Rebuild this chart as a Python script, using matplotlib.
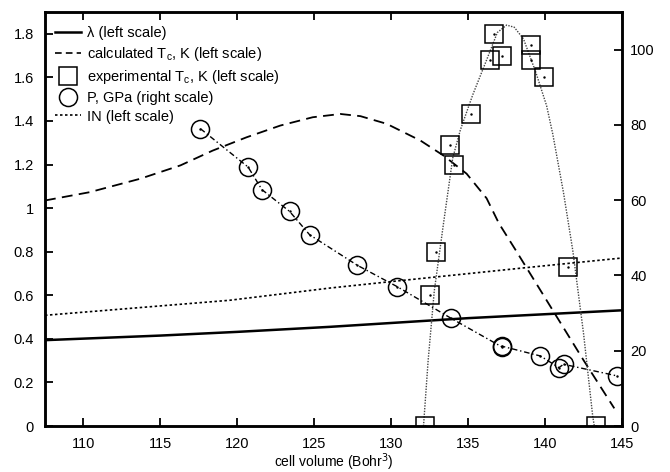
import matplotlib
matplotlib.use("Agg")
import matplotlib.pyplot as plt
from matplotlib.lines import Line2D

plt.rcParams["font.family"] = ["Liberation Sans", "DejaVu Sans"]
plt.rcParams["font.size"] = 10.5

# lambda (left scale)
lam_v = [107.5, 115.0, 120.0, 126.0, 135.0, 145.0]
lam_y = [0.394, 0.415, 0.432, 0.455, 0.495, 0.531]

# IN (left scale)
in_v = [107.5, 119.5, 126.0, 130.3, 138.8, 145.0]
in_y = [0.508, 0.577, 0.633, 0.665, 0.727, 0.771]

# calculated Tc (left scale)
calc_v = [107.5, 110.4, 113.7, 116.3, 118.4, 120.6, 122.8, 124.9, 126.7, 128.0,
          129.7, 131.9, 133.4, 134.9, 136.2, 137.0, 138.1, 140.5, 142.5, 144.5]
calc_y = [1.035, 1.073, 1.135, 1.196, 1.264, 1.325, 1.379, 1.417, 1.432, 1.422,
          1.387, 1.31, 1.241, 1.158, 1.045, 0.93, 0.806, 0.531, 0.302, 0.081]

# experimental Tc (left scale)
exp_v = [132.2, 132.5, 132.9, 133.8, 134.1, 135.2, 136.4, 136.7, 137.2, 139.1,
         139.1, 139.9, 141.5, 143.3]
exp_y = [0.0, 0.60, 0.80, 1.29, 1.20, 1.43, 1.68, 1.80, 1.70, 1.75,
         1.68, 1.60, 0.73, 0.0]

# fit through experimental Tc
fit_v = [132.1, 132.4, 132.8, 133.4, 134.0, 134.5, 135.3, 136.2, 136.9, 137.5,
         138.0, 138.6, 139.4, 140.1, 140.5, 141.2, 141.8, 142.5, 143.1, 143.2]
fit_y = [0.0, 0.30, 0.62, 0.93, 1.23, 1.36, 1.52, 1.68, 1.806, 1.84,
         1.83, 1.776, 1.623, 1.47, 1.34, 1.07, 0.806, 0.425, 0.043, 0.0]

# pressure (right scale)
p_v = [117.6, 120.7, 121.6, 123.4, 124.7, 127.8, 130.4, 133.9, 137.2, 137.2,
       139.7, 140.9, 141.2, 144.7]
p_y = [79.0, 68.8, 62.8, 57.0, 50.8, 42.7, 37.0, 28.6, 21.0, 21.2,
       18.6, 15.5, 16.4, 13.3]

fig = plt.figure(figsize=(6.7, 4.72), dpi=100)
ax = fig.add_axes([45 / 670, 1 - 426 / 472, 577 / 670, 414 / 472])
ax2 = ax.twinx()

ax.plot(lam_v, lam_y, color="black", lw=1.8)
ax.plot(calc_v, calc_y, color="black", lw=1.3, dashes=(6, 3.5))
ax.plot(fit_v, fit_y, color="#444444", lw=1.0, linestyle=(0, (1, 1)))
ax.plot(exp_v, exp_y, linestyle="none", marker="s", ms=12.5, mfc="none",
        mec="black", mew=1.1)
ax.plot(exp_v, exp_y, linestyle="none", marker=".", ms=1.5, color="black")
ax.plot(in_v, in_y, color="black", lw=1.2, linestyle=(0, (1.5, 1.5)))

ax2.plot(p_v, p_y, color="black", lw=1.0, linestyle=(0, (4, 2, 1, 2)),
         marker="o", ms=13, mfc="none", mec="black", mew=1.1)
ax2.plot(p_v, p_y, linestyle="none", marker=".", ms=1.5, color="black")

ax.set_xlim(107.5, 145)
ax.set_ylim(0, 1.9)
ax2.set_ylim(0, 110)
ax.set_xticks([110, 115, 120, 125, 130, 135, 140, 145])
ax.set_yticks([0, 0.2, 0.4, 0.6, 0.8, 1, 1.2, 1.4, 1.6, 1.8])
ax.set_yticklabels(["0", "0.2", "0.4", "0.6", "0.8", "1", "1.2", "1.4", "1.6", "1.8"])
ax2.set_yticks([0, 20, 40, 60, 80, 100])

ax.tick_params(axis="x", direction="in", top=True, length=6, width=1.3, pad=8)
ax.tick_params(axis="y", direction="in", length=6, width=1.3, pad=8)
ax2.tick_params(axis="y", direction="in", length=6, width=1.3, pad=6)
for sp in ax.spines.values():
    sp.set_linewidth(1.8)
for sp in ax2.spines.values():
    sp.set_linewidth(1.8)

ax.set_xlabel("cell volume (Bohr$^3$)", labelpad=0, fontsize=10)

handles = [
    Line2D([], [], color="black", lw=1.8),
    Line2D([], [], color="black", lw=1.2, dashes=(4, 2.5)),
    Line2D([], [], linestyle="none", marker="s", ms=12.5, mfc="none", mec="black", mew=1.1),
    Line2D([], [], linestyle="none", marker="o", ms=13, mfc="none", mec="black", mew=1.1),
    Line2D([], [], color="black", lw=1.2, linestyle=(0, (1.5, 1.5))),
]
labels = [
    "λ (left scale)",
    "calculated T$_\\mathregular{c}$, K (left scale)",
    "experimental T$_\\mathregular{c}$, K (left scale)",
    "P, GPa (right scale)",
    "IN (left scale)",
]
ax.legend(handles, labels, loc="upper left", frameon=False, handlelength=1.8,
          handletextpad=0.35, labelspacing=0.33, borderaxespad=0.3,
          bbox_to_anchor=(0.0, 0.99), fontsize=10.5)

fig.savefig("out.png", dpi=100)
